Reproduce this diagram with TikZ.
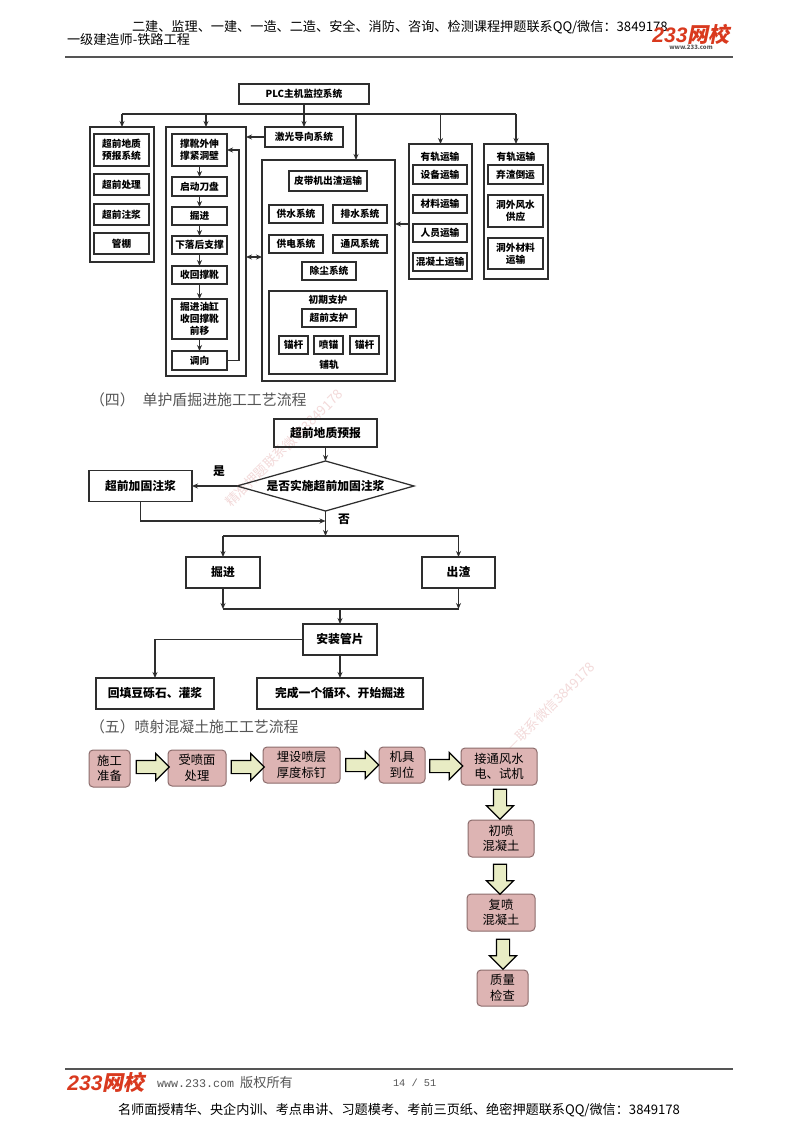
\documentclass[tikz,border=0pt]{standalone}
\usepackage{fontspec}
\setmainfont{Noto Sans CJK SC}
\newfontfamily\logocjk[FakeSlant=0.2]{Noto Sans CJK SC}
\newfontfamily\logolat{Liberation Sans}
\newfontfamily\pagemono{Liberation Mono}
\usetikzlibrary{arrows.meta,positioning,shapes.geometric,shapes.arrows}
\definecolor{inkline}{HTML}{2E2E2E}
\definecolor{graytext}{HTML}{555555}
\definecolor{rosefill}{HTML}{DDB4B3}
\definecolor{roseline}{HTML}{8C6C6C}
\definecolor{limefill}{HTML}{E8ECC4}
\definecolor{logored}{HTML}{D9391E}
\definecolor{stampink}{HTML}{F3DADA}
\newcommand{\sizept}[2]{\fontsize{#1}{#2}\selectfont}
\newcommand{\brandmark}{{\color{logored}\bfseries\itshape\logolat\sizept{21}{21}233\logocjk 网校}}
\tikzset{
    frame/.style={draw=inkline, line width=1.25pt, inner sep=0pt, outer sep=0pt},
    cell/.style={frame, align=center, font=\bfseries\sizept{9.7}{12}, minimum width=55, minimum height=18},
    tag/.style={inner sep=0pt, outer sep=0pt, align=center, font=\bfseries\sizept{9.7}{12}},
    chart/.style={frame, align=center, font=\bfseries\sizept{11.8}{14}, minimum height=31},
    answer/.style={inner sep=0pt, font=\bfseries\sizept{11.8}{14}},
    arr/.style={draw=inkline, line width=1.25pt, -{Stealth[length=6pt,width=5pt]}},
    arrs/.style={arr, {Stealth[length=6pt,width=5pt]}-{Stealth[length=6pt,width=5pt]}},
    wire/.style={draw=inkline, line width=1.25pt},
    stepbox/.style={draw=roseline, fill=rosefill, line width=1pt, rounded corners=4pt, inner sep=0pt, outer sep=0pt, align=center, font=\sizept{12.3}{15.5}},
    push/.style={single arrow, draw=black, fill=limefill, line width=1.2pt, inner sep=6pt, outer sep=0pt, single arrow head extend=7pt, minimum width=26, minimum height=33},
    pushdown/.style={push, shape border rotate=270, minimum height=30},
    plain/.style={inner sep=0pt, outer sep=0pt, anchor=west, font=\sizept{13.15}{16}},
    section/.style={plain, text=graytext, font=\sizept{14.9}{18}},
    stamp/.style={inner sep=0pt, rotate=45, text=stampink, font=\sizept{13.4}{16}}
}
\begin{document}
\begin{tikzpicture}[x=1pt, y=-1pt]
    \useasboundingbox[fill=white] (0,0) rectangle (800,1132);

    \node[stamp] (stamp1) at (284,448) {精准押题联系微信3849178};
    \node[stamp] (stamp2) at (551,706) {—联系微信3849178};

    \node[plain] (headtop) at (132,27) {二建、监理、一建、一造、二造、安全、消防、咨询、检测课程押题联系QQ/微信：3849178};
    \node[plain] (headsub) at (67,40) {一级建造师-铁路工程};
    \node[inner sep=0pt] (logotop) at (691,34) {\brandmark};
    \node[inner sep=0pt, text=graytext, font=\bfseries\itshape\sizept{6}{7}] (logourl) at (691,47) {www.233.com};
    \coordinate (headl) at (65,57);
    \coordinate (headr) at (733,57);
    \draw[draw=graytext, line width=1.2pt] (headl) -- (headr);

    \node[frame, minimum width=130, minimum height=20, font=\bfseries\sizept{9.7}{12}] (plc) at (304,94) {PLC主机监控系统};
    \node[frame, minimum width=78, minimum height=20, font=\bfseries\sizept{9.7}{12}] (laser) at (304,137) {激光导向系统};

    \node[frame, minimum width=64, minimum height=135] (front) at (122,194.5) {};
    \node[cell, minimum height=32] (geo) at (121.5,150) {超前地质\\预报系统};
    \node[cell, minimum height=21, below=8pt of geo] (treat) {超前处理};
    \node[cell, minimum height=21, below=9pt of treat] (grout) {超前注浆};
    \node[cell, minimum height=21, below=8pt of grout] (pipe) {管棚};

    \node[frame, minimum width=80, minimum height=249] (shield) at (206,251.5) {};
    \node[cell, minimum height=32] (ext) at (199.5,150) {撑靴外伸\\撑紧洞壁};
    \node[cell, minimum height=19, below=11pt of ext] (disc) {启动刀盘};
    \node[cell, below=11pt of disc] (dig) {掘进};
    \node[cell, below=11pt of dig] (drop) {下落后支撑};
    \node[cell, below=12pt of drop] (retr) {收回撑靴};
    \node[cell, minimum height=40, below=15pt of retr] (move) {掘进油缸\\收回撑靴\\前移};
    \node[cell, minimum height=19, below=12pt of move] (turn) {调向};

    \node[frame, minimum width=133, minimum height=221] (tunnel) at (328.5,270.5) {};
    \node[cell, minimum width=78, minimum height=20] (belt) at (328,181) {皮带机出渣运输};
    \node[cell, minimum width=54] (feed) at (296,214) {供水系统};
    \node[cell, minimum width=54, right=10pt of feed] (drain) {排水系统};
    \node[cell, minimum width=54, below=12pt of feed] (power) {供电系统};
    \node[cell, minimum width=54, below=12pt of drain] (vent) {通风系统};
    \node[cell, minimum width=54] (dust) at (329,271) {除尘系统};
    \node[frame, minimum width=118, minimum height=83] (lining) at (328,332.5) {};
    \node[tag] (liningtag) at (328,300) {初期支护};
    \node[cell, minimum width=54] (adv) at (329,318) {超前支护};
    \node[cell, minimum width=29] (bolta) at (293.5,345) {锚杆};
    \node[cell, minimum width=29, right=6pt of bolta] (spray) {喷锚};
    \node[cell, minimum width=29, right=7pt of spray] (boltb) {锚杆};
    \node[tag] (track) at (329,365) {铺轨};

    \node[frame, minimum width=63, minimum height=135] (rail) at (440.5,211.5) {};
    \node[tag] (railtag) at (440,157) {有轨运输};
    \node[cell, minimum width=54, minimum height=19] (gear) at (440,174.5) {设备运输};
    \node[cell, minimum width=54, below=11pt of gear] (stock) {材料运输};
    \node[cell, minimum width=54, below=11pt of stock] (crew) {人员运输};
    \node[cell, minimum width=54, below=11pt of crew] (mix) {混凝土运输};

    \node[frame, minimum width=64, minimum height=135] (haul) at (516,211.5) {};
    \node[tag] (haultag) at (516,157) {有轨运输};
    \node[cell, minimum height=19] (spoil) at (515.5,174.5) {弃渣倒运};
    \node[cell, minimum height=32, below=11pt of spoil] (wind) {洞外风水\\供应};
    \node[cell, minimum height=31, below=11pt of wind] (goods) {洞外材料\\运输};

    \coordinate (bus1) at (122,114);
    \coordinate (bus2) at (206,114);
    \coordinate (bus3) at (356,114);
    \coordinate (bus4) at (440.5,114);
    \coordinate (bus5) at (516,114);
    \coordinate (swap) at (246,257);
    \coordinate (railout) at (409,224);
    \coordinate (loop) at (239,255);
    \draw[wire] (bus1) -- (bus5);
    \draw[arr] (plc) -- (laser);
    \draw[arr] (bus1) -- (front);
    \draw[arr] (bus2) -- (shield);
    \draw[arr] (bus3) -- (bus3 |- tunnel.north);
    \draw[arr] (bus4) -- (rail);
    \draw[arr] (bus5) -- (haul);
    \draw[arr] (laser) -- (laser -| shield.east);
    \draw[arrs] (swap) -- (swap -| tunnel.west);
    \draw[arr] (railout) -- (railout -| tunnel.east);
    \draw[arr] (turn) -| (loop) |- (ext);
    \foreach \a/\b in {ext/disc, disc/dig, dig/drop, drop/retr, retr/move, move/turn}
        \draw[arr] (\a) -- (\b);

    \node[section] (title4) at (90,400) {（四）\hspace{8pt}单护盾掘进施工工艺流程};

    \node[chart, minimum width=103, minimum height=28] (forecast) at (325.5,433) {超前地质预报};
    \node[frame, diamond, aspect=3.54, minimum width=177, minimum height=50, font=\bfseries\sizept{11.8}{14}, below=14pt of forecast] (check) {是否实施超前加固注浆};
    \node[chart, minimum width=103] (reinforce) at (140.5,486) {超前加固注浆};
    \node[answer] (yes) at (219,471) {是};
    \node[answer] (no) at (344,519) {否};
    \node[chart, minimum width=74] (excav) at (223,572.5) {掘进};
    \node[chart, minimum width=73] (muck) at (458.5,572.5) {出渣};
    \node[chart, minimum width=74] (ring) at (340,639.5) {安装管片};
    \node[chart, minimum width=118] (backfill) at (155,693.5) {回填豆砾石、灌浆};
    \node[chart, minimum width=166] (finish) at (340,693.5) {完成一个循环、开始掘进};

    \coordinate (merge) at (325.5,521);
    \coordinate (fork) at (325.5,536);
    \coordinate (forkl) at (223,536);
    \coordinate (forkr) at (458.5,536);
    \coordinate (suml) at (223,609);
    \coordinate (sumr) at (458.5,609);
    \coordinate (sum) at (340,609);
    \draw[arr] (forecast) -- (check);
    \draw[arr] (check) -- (reinforce);
    \draw[arr] (reinforce) |- (merge);
    \draw[arr] (check) -- (fork);
    \draw[wire] (forkl) -- (forkr);
    \draw[arr] (forkl) -- (excav);
    \draw[arr] (forkr) -- (muck);
    \draw[arr] (excav) -- (suml);
    \draw[arr] (muck) -- (sumr);
    \draw[wire] (suml) -- (sumr);
    \draw[arr] (sum) -- (ring);
    \draw[arr] (ring) -| (backfill);
    \draw[arr] (ring) -- (finish);

    \node[section] (title5) at (90,727) {（五）喷射混凝土施工工艺流程};

    \node[stepbox, minimum width=41, minimum height=37] (prep) at (109.5,768.5) {施工\\准备};
    \node[stepbox, minimum width=58, minimum height=36] (surf) at (197,768) {受喷面\\处理};
    \node[stepbox, minimum width=77, minimum height=36] (nail) at (301.5,765) {埋设喷层\\厚度标钉};
    \node[stepbox, minimum width=46, minimum height=36] (tool) at (402,765) {机具\\到位};
    \node[stepbox, minimum width=76, minimum height=37] (test) at (499,766.5) {接通风水\\电、试机};
    \node[stepbox, minimum width=66, minimum height=37] (first) at (501,838.5) {初喷\\混凝土};
    \node[stepbox, minimum width=68, minimum height=37] (again) at (501,912.5) {复喷\\混凝土};
    \node[stepbox, minimum width=51, minimum height=36] (audit) at (502.5,988) {质量\\检查};

    \node[push] (push1) at (149.5,767) {};
    \node[push] (push2) at (244.5,767) {};
    \node[push] (push3) at (359,765) {};
    \node[push] (push4) at (443,766) {};
    \node[pushdown] (push5) at (500,801) {};
    \node[pushdown] (push6) at (500,876) {};
    \node[pushdown] (push7) at (503,951) {};

    \coordinate (footl) at (65,1069);
    \coordinate (footr) at (733,1069);
    \draw[draw=graytext, line width=1.2pt] (footl) -- (footr);
    \node[inner sep=0pt] (logofoot) at (106,1082) {\brandmark};
    \node[plain, text=graytext] (site) at (157,1083) {{\pagemono\sizept{11.7}{14}www.233.com}\hspace{6pt}版权所有};
    \node[plain, text=graytext, font=\pagemono\sizept{10.3}{12}] (pageno) at (393,1083) {14 / 51};
    \node[plain] (foottext) at (118,1110) {名师面授精华、央企内训、考点串讲、习题模考、考前三页纸、绝密押题联系QQ/微信：3849178};
\end{tikzpicture}
\end{document}
